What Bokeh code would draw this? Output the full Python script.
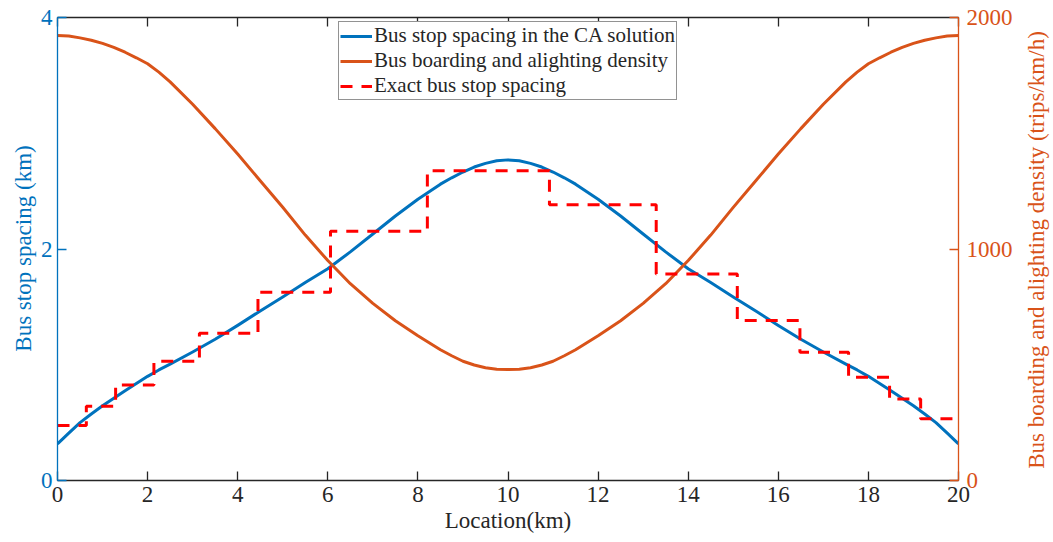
from bokeh.plotting import figure
from bokeh.layouts import row
from bokeh.models import Range1d, LinearAxis, FixedTicker, Legend, LegendItem
from bokeh.embed import file_html
from bokeh.resources import INLINE

# ---- data ----
location = [0, 0.25, 0.5, 0.75, 1, 1.25, 1.5, 1.75, 2, 2.25, 2.5, 3, 3.5, 4, 4.5, 5, 5.5, 6,
            6.5, 7, 7.5, 8, 8.5, 8.75, 9, 9.25, 9.5, 9.75, 10,
            10.25, 10.5, 10.75, 11, 11.25, 11.5, 12, 12.5, 13, 13.5, 14, 14.5, 15, 15.5, 16,
            16.5, 17, 17.5, 17.75, 18, 18.25, 18.5, 18.75, 19, 19.25, 19.5, 19.75, 20]
spacing_ca = [0.317, 0.41, 0.50, 0.575, 0.645, 0.71, 0.775, 0.838, 0.90, 0.955, 1.005, 1.11,
              1.22, 1.34, 1.465, 1.585, 1.71, 1.83, 1.975, 2.13, 2.285, 2.43, 2.56, 2.615,
              2.665, 2.708, 2.74, 2.762, 2.77,
              2.762, 2.74, 2.708, 2.665, 2.615, 2.56, 2.43, 2.285, 2.13, 1.975, 1.83, 1.71,
              1.585, 1.465, 1.34, 1.22, 1.11, 1.005, 0.955, 0.90, 0.838, 0.775, 0.71, 0.645,
              0.575, 0.50, 0.41, 0.317]
density = [1922, 1920, 1912, 1902, 1888, 1871, 1850, 1826, 1800, 1764, 1722, 1625, 1520, 1410,
           1295, 1180, 1060, 950, 850, 765, 690, 625, 565, 539, 515, 499, 487, 481, 479,
           481, 487, 499, 515, 539, 565, 625, 690, 765, 850, 950, 1060, 1180, 1295, 1410, 1520,
           1625, 1722, 1764, 1800, 1826, 1850, 1871, 1888, 1902, 1912, 1920, 1922]
stop_bounds = [0, 0.64, 1.29, 2.14, 3.15, 4.45, 6.06, 8.21, 10.92, 13.29, 15.09, 16.48, 17.56,
               18.47, 19.16, 20]
stop_spacing = [0.475, 0.642, 0.826, 1.03, 1.272, 1.626, 2.153, 2.677, 2.383, 1.785, 1.382, 1.108,
                0.892, 0.705, 0.533]
x_ticks = [0, 2, 4, 6, 8, 10, 12, 14, 16, 18, 20]
left_ticks = [0, 2, 4]
right_ticks = [0, 1000, 2000]
left_title = "Bus stop spacing (km)"
right_title = "Bus boarding and alighting density (trips/km/h)"
x_title = "Location(km)"

BLUE = "#0072BD"
ORANGE = "#D95319"
RED = "#FF0000"
DARK = "#262626"
FONT = "Liberation Serif"
TICK_FS = "23px"
LABEL_FS = "23px"
TOTAL_H = 542


def style_axis(ax, color, ticks):
    ax.ticker = FixedTicker(ticks=ticks)
    ax.axis_line_color = color
    ax.axis_line_width = 1.3
    ax.major_tick_line_color = color
    ax.major_tick_line_width = 1.3
    ax.major_tick_in = 9
    ax.major_tick_out = 0
    ax.minor_tick_line_color = None
    ax.major_label_text_color = color
    ax.major_label_text_font = FONT
    ax.major_label_text_font_size = TICK_FS
    ax.axis_label_text_font = FONT
    ax.axis_label_text_font_size = LABEL_FS
    ax.axis_label_text_font_style = "normal"
    ax.axis_label_text_color = color


def title_strip(text, color, border_left, frame_h):
    """A narrow, empty figure whose left-axis title reads bottom-to-top."""
    f = figure(frame_width=2, frame_height=frame_h, x_range=Range1d(0, 1), y_range=Range1d(0, 1),
               min_border_left=border_left, min_border_right=0, min_border_top=0,
               min_border_bottom=TOTAL_H - frame_h,
               output_backend="svg", toolbar_location=None,
               background_fill_color="white", border_fill_color="white")
    f.outline_line_color = None
    f.xgrid.visible = False
    f.ygrid.visible = False
    f.xaxis.visible = False
    ax = f.yaxis[0]
    style_axis(ax, color, [])
    ax.axis_line_color = None
    ax.major_tick_in = 0
    ax.major_label_standoff = 0
    ax.axis_label = text
    ax.axis_label_standoff = 0
    return f


# ---- main plot ----
FRAME_W = 901
FRAME_H = 463
TOP = 17
p = figure(frame_width=FRAME_W, frame_height=FRAME_H,
           x_range=Range1d(0, 20), y_range=Range1d(0, 4),
           output_backend="svg", toolbar_location=None,
           min_border_left=17, min_border_right=60, min_border_top=TOP,
           min_border_bottom=TOTAL_H - TOP - FRAME_H,
           background_fill_color="white", border_fill_color="white")
p.extra_y_ranges = {"density": Range1d(0, 2000)}
p.xgrid.visible = False
p.ygrid.visible = False
p.outline_line_color = None

xa = p.xaxis[0]
style_axis(xa, DARK, x_ticks)
xa.axis_label = x_title
xa.major_label_standoff = 6
xa.axis_label_standoff = 3

ya = p.yaxis[0]
style_axis(ya, BLUE, left_ticks)
ya.major_label_standoff = 5

ra = LinearAxis(y_range_name="density")
style_axis(ra, ORANGE, right_ticks)
ra.major_label_standoff = 8
p.add_layout(ra, "right")

ta = LinearAxis()
style_axis(ta, DARK, x_ticks)
ta.major_label_overrides = {t: "" for t in x_ticks}
ta.major_label_standoff = 0
p.add_layout(ta, "above")

r_blue = p.line(location, spacing_ca, line_color=BLUE, line_width=3, line_join="round")
r_orange = p.line(location, density, line_color=ORANGE, line_width=3, line_join="round",
                  y_range_name="density")
r_red = p.step(stop_bounds, stop_spacing + [stop_spacing[-1]], mode="after",
               line_color=RED, line_width=3, line_dash="12 9")

legend = Legend(items=[
    LegendItem(label="Bus stop spacing in the CA solution", renderers=[r_blue]),
    LegendItem(label="Bus boarding and alighting density", renderers=[r_orange]),
    LegendItem(label="Exact bus stop spacing", renderers=[r_red]),
], location=(281, 380))
legend.label_text_font = FONT
legend.label_text_font_size = "21px"
legend.label_text_color = DARK
legend.label_height = 18
legend.glyph_height = 18
legend.glyph_width = 32
legend.label_standoff = 2
legend.spacing = 0
legend.padding = 1
legend.margin = 0
legend.border_line_color = DARK
legend.border_line_width = 1
legend.background_fill_color = "white"
legend.background_fill_alpha = 1
p.add_layout(legend, "center")

p_left = title_strip(left_title, BLUE, 35, 462)
p_right = title_strip(right_title, ORANGE, 30, 465)

layout = row(p_left, p, p_right, spacing=0)
open("out.html", "w").write(file_html(layout, INLINE))
